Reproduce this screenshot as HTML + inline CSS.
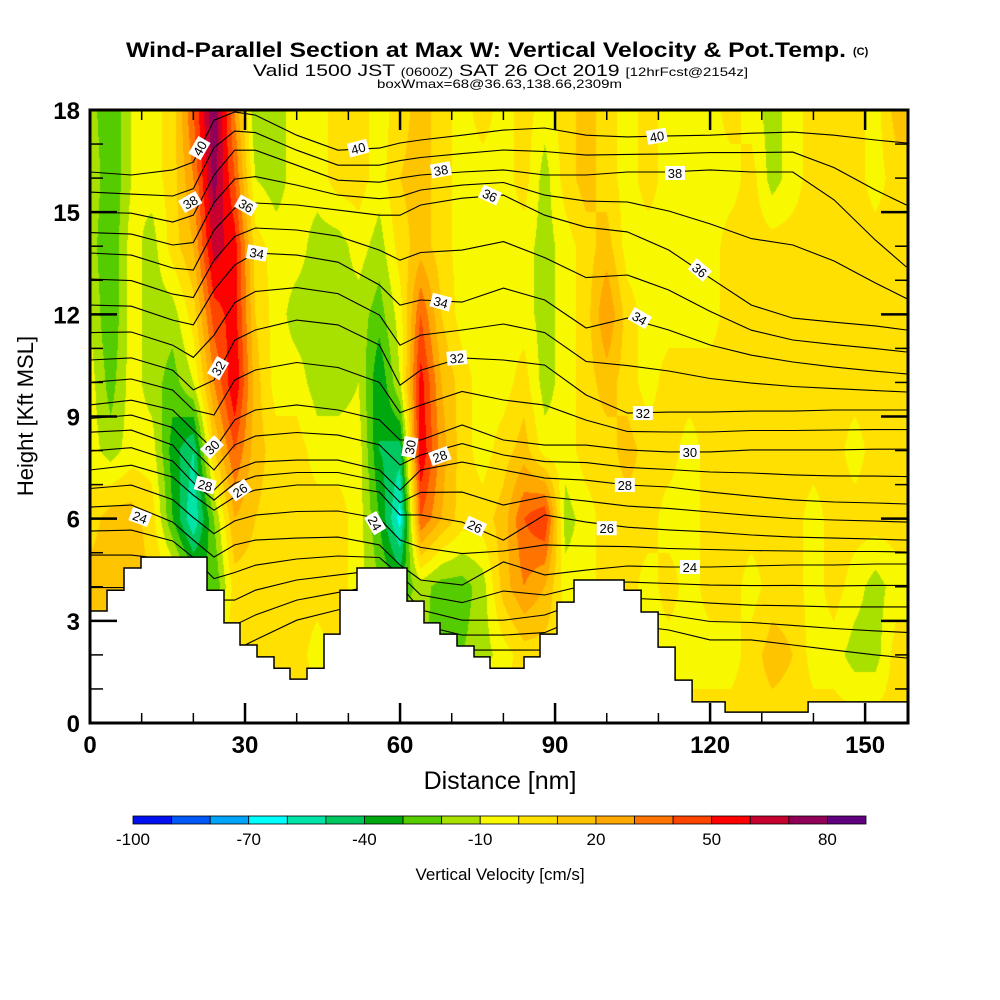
<!DOCTYPE html>
<html><head><meta charset="utf-8">
<style>
html,body{margin:0;padding:0;background:#fff;}
#wrap{position:relative;width:1000px;height:1000px;overflow:hidden;}
canvas{position:absolute;left:0;top:0;}
svg{position:absolute;left:0;top:0;}
text{font-family:"Liberation Sans",sans-serif;}
</style></head>
<body>
<div id="wrap">
<canvas id="heat" width="1000" height="1000"></canvas>
<svg id="svg" width="1000" height="1000" xmlns="http://www.w3.org/2000/svg">
  <g>
    <text x="126" y="57" font-size="21" font-weight="bold" textLength="720" lengthAdjust="spacingAndGlyphs">Wind-Parallel Section at Max W: Vertical Velocity &amp; Pot.Temp.</text>
    <text x="853" y="55" font-size="11" font-weight="bold">(C)</text>
    <text x="253" y="76" font-size="17" textLength="495" lengthAdjust="spacingAndGlyphs">Valid 1500 JST <tspan font-size="12">(0600Z)</tspan> SAT 26 Oct 2019 <tspan font-size="12">[12hrFcst@2154z]</tspan></text>
    <text x="377" y="88" font-size="12" textLength="245" lengthAdjust="spacingAndGlyphs">boxWmax=68@36.63,138.66,2309m</text>
  </g>
  <g id="plot">
    <defs><clipPath id="clip"><rect x="90" y="110" width="818" height="613"/></clipPath></defs>
    <g id="lines" clip-path="url(#clip)"></g>
    <g id="terrain" clip-path="url(#clip)"></g>
    <g id="labels"></g>
    <g id="ticks"></g>
    <rect x="90" y="110" width="818" height="613" fill="none" stroke="#000" stroke-width="3"/>
  </g>
  <g id="xlabels"></g>
  <g id="ylabels"></g>
  <text x="500" y="789" font-size="25" text-anchor="middle">Distance [nm]</text>
  <text x="0" y="0" font-size="22" text-anchor="middle" transform="translate(33,416) rotate(-90)">Height [Kft MSL]</text>
  <g id="cbar"></g>
  <text x="500" y="880" font-size="17" text-anchor="middle">Vertical Velocity [cm/s]</text>
</svg>
</div>
<script>
// ---------- data ----------
const dist = [0,4,8,12,16,20,24,28,32,36,40,44,48,52,56,60,64,68,72,76,80,84,88,92,96,100,104,108,112,116,120,124,128,132,136,140,144,148,152,156];
const heightsW = [0,2,4,6,8,10,12,14,16,18];
const wH0  = [5,5,5,5,5,5,5,5,5,5,5,5,5,5,5,5,5,5,5,5,5,5,5,5,5,5,5,5,5,5,5,5,5,5,5,5,5,5,5,5];
const wH2  = [10,10,10,10,5,5,5,5,5,5,5,-5,5,5,5,5,-15,-30,-20,-15,-5,5,5,5,5,5,5,-5,-5,-5,-5,-5,5,15,10,-5,-5,-15,-15,5];
const wH4  = [15,15,15,10,5,-20,-30,5,5,5,5,5,5,-5,-20,-30,-15,-25,-25,-15,15,30,20,-5,-5,5,5,-5,5,-5,5,5,-5,5,5,-5,5,-5,-15,-5];
const wH6  = [5,15,15,5,-30,-60,-20,20,10,5,5,5,5,-5,-30,-65,40,20,5,5,15,40,50,-15,-5,5,5,5,-5,-5,5,5,5,5,5,-5,5,5,5,5];
const wH8  = [-5,-15,-5,-5,-35,-50,10,40,15,5,5,-5,-5,-5,-40,-45,60,25,5,-5,5,15,-5,-5,5,5,15,5,5,-5,5,5,5,5,5,5,5,-5,5,5];
const wH10 = [-5,-25,-5,-15,-25,-10,30,60,15,-5,-5,-15,-15,-10,-40,-10,55,20,5,-5,-5,5,-15,-5,5,15,5,-5,5,5,5,5,5,5,5,5,5,5,5,5];
const wH12 = [-10,-30,-5,-15,-15,5,45,55,10,-5,-15,-15,-15,-15,-25,-5,40,10,-5,-5,-5,-5,-15,-5,5,30,5,-5,-5,-5,-5,5,5,5,5,5,5,5,5,5];
const wH14 = [-15,-30,-5,-15,5,20,65,55,5,-5,-5,-15,-15,-5,-15,5,15,5,-5,-5,-5,-5,-15,-5,5,15,-5,-5,-5,-5,-5,5,5,5,5,5,5,5,5,5];
const wH16 = [-10,-30,-10,-5,5,30,75,40,-10,-15,-5,-5,5,5,-5,10,15,5,-5,-5,-5,5,-15,5,15,5,-5,5,-5,-5,-5,-5,5,-15,-5,5,5,5,-5,5];
const wH18 = [-15,-30,-10,-5,5,40,80,30,-20,-15,-5,-5,5,5,-5,5,15,5,-5,5,-5,5,-5,5,15,5,-5,5,-5,-5,-5,5,-5,-15,-5,5,5,5,-5,15];
const wRows = [wH0,wH2,wH4,wH6,wH8,wH10,wH12,wH14,wH16,wH18];

const cbLevels = [-100,-90,-80,-70,-60,-50,-40,-30,-20,-10,0,10,20,30,40,50,60,70,80,90];
const cbColors = ["#0010f0","#0058f8","#00a4f8","#00ffff","#00e4a8","#00c860","#00a810","#54cc00","#a8e000","#f8f800","#ffe000","#ffc400","#ffa800","#ff7400","#ff4400","#ff0000","#c80030","#900058","#60007f"];
const cbTickLabels = [-100,-70,-40,-10,20,50,80];

const thDist = [0,8,16,20,24,28,32,40,48,56,60,64,72,80,88,96,104,112,120,128,136,144,152,158];
const th20 = [3.02,3.02,3.02,3.02,2.44,2.14,2.44,3.02,3.32,3.61,3.02,2.44,2.14,2.14,2.14,2.73,2.88,2.73,2.44,2.44,2.29,2.14,2.0,1.91];
const th22 = [4.93,4.93,4.79,4.35,3.61,3.61,3.9,4.2,4.35,4.49,4.05,3.32,3.02,3.02,3.17,3.61,3.67,3.61,3.52,3.46,3.44,3.41,3.41,3.41];
const th24 = [6.34,6.4,5.9,5.37,4.87,5.23,5.37,5.43,5.46,5.23,4.64,4.2,4.05,4.73,4.35,4.49,4.61,4.58,4.58,4.61,4.64,4.64,4.67,4.67];
const th26 = [7.43,7.57,7.22,6.69,6.25,6.64,6.84,6.99,6.99,6.78,6.11,6.11,5.9,5.37,6.11,5.9,5.75,5.67,5.61,5.52,5.46,5.43,5.4,5.37];
const th28 = [8.54,8.6,8.16,7.43,6.84,7.43,7.66,7.72,7.72,7.43,6.84,7.43,7.66,7.43,7.19,7.13,6.99,6.93,6.78,6.66,6.55,6.49,6.46,6.43];
const th30 = [9.34,9.48,9.19,8.6,8.02,8.9,9.19,9.34,9.19,8.9,8.31,8.31,8.75,8.31,8.16,8.16,8.02,7.96,7.96,8.02,8.02,8.02,8.04,8.04];
const th32 = [10.66,10.72,10.36,9.78,10.07,11.24,11.54,11.83,11.69,11.1,9.92,10.36,10.72,10.66,10.51,9.63,9.1,9.13,9.13,9.16,9.16,9.19,9.19,9.19];
const th34 = [12.27,12.24,11.83,11.69,12.71,13.45,13.8,13.74,13.53,12.86,12.27,12.42,12.36,12.77,12.42,11.6,11.89,11.54,11.1,10.8,10.6,10.45,10.33,10.25];
const th36 = [13.8,13.74,13.36,13.3,14.47,15.12,15.27,15.21,15.06,14.91,14.91,15.21,15.41,15.5,14.91,14.56,14.42,13.89,13.07,12.27,11.89,11.77,11.66,11.54];
const th38 = [15.0,14.97,14.71,14.91,16.09,16.82,16.82,16.38,15.94,15.88,16.0,16.09,16.18,16.24,16.09,16.09,16.18,16.18,16.24,16.18,16.18,15.36,14.18,13.39];
const th40 = [16.18,16.09,16.24,16.47,17.7,17.94,17.85,17.26,16.82,16.88,17.03,17.12,17.26,17.41,17.47,17.26,17.21,17.24,17.26,17.32,17.35,17.26,17.12,17.03];
const thEven = [th20,th22,th24,th26,th28,th30,th32,th34,th36,th38,th40];

const lblText = ["40","38","36","34","32","30","28","26","24","40","38","36","34","32","30","28","26","24","40","38","36","34","32","30","28","26","24"];
const lblDist = [21.2,19.4,30.2,32.3,24.8,23.6,22.3,29,9.7,51.9,67.9,77.4,67.9,71,61.9,67.7,74.5,55.2,109.7,113.2,118,106.4,107,116.1,103.5,100,116.1];
const lblHgt  = [16.88,15.3,15.2,13.8,10.42,8.1,6.99,6.84,6.05,16.88,16.24,15.5,12.36,10.72,8.1,7.84,5.78,5.87,17.23,16.15,13.3,11.89,9.1,7.96,6.99,5.72,4.58];
const lblRot  = [-60,-30,30,10,-60,-45,15,-35,20,-15,-10,25,15,-5,-80,-20,25,60,-10,0,40,30,0,0,0,0,0];

const terrEdges = [0,3.29,6.58,9.87,22.64,25.93,29.03,32.32,35.61,38.71,42.0,45.29,48.38,51.67,61.35,64.64,67.74,71.03,74.32,77.41,83.99,87.09,90.38,93.67,103.35,106.64,109.93,113.22,116.51,122.9,138.96,158.3];
const terrHgt = [3.29,3.9,4.55,4.87,3.9,2.94,2.29,1.94,1.61,1.29,1.61,2.61,3.9,4.55,3.58,2.94,2.61,2.26,1.94,1.61,1.94,2.61,3.55,4.2,3.9,3.26,2.23,1.26,0.62,0.32,0.62];

const xTicks = [0,30,60,90,120,150];
const yTicks = [0,3,6,9,12,15,18];

// ---------- axes ----------
const X0=90, X1=908, Y0=723, Y1=110, DMAX=158.3, HMAX=18;
const X = d => X0 + d*(X1-X0)/DMAX;
const Y = h => Y0 - h*(Y0-Y1)/HMAX;
const NS="http://www.w3.org/2000/svg";
function mk(tag, attrs, parent){const e=document.createElementNS(NS,tag);for(const k in attrs)e.setAttribute(k,attrs[k]);parent.appendChild(e);return e;}
function hex(c){return [parseInt(c.substr(1,2),16),parseInt(c.substr(3,2),16),parseInt(c.substr(5,2),16)];}
const rgb = cbColors.map(hex);

// ---------- heatmap ----------
(function(){
  const cv=document.getElementById('heat'); const ctx=cv.getContext('2d');
  const W=X1-X0, H=Y0-Y1; const img=ctx.createImageData(W,H);
  const dStep=dist[1]-dist[0], hStep=heightsW[1]-heightsW[0];
  for(let py=0;py<H;py++){
    const h=(Y0-(Y1+py+0.5))*HMAX/(Y0-Y1);
    let fj=h/hStep; let j=Math.min(Math.floor(fj),heightsW.length-2); if(j<0)j=0; const tj=Math.max(0,Math.min(1,fj-j));
    for(let px=0;px<W;px++){
      const d=(px+0.5)*DMAX/W;
      let fi=d/dStep; let i=Math.min(Math.floor(fi),dist.length-2); let ti=fi-i; if(ti>1)ti=1;
      const v=(wRows[j][i]*(1-ti)+wRows[j][i+1]*ti)*(1-tj)+(wRows[j+1][i]*(1-ti)+wRows[j+1][i+1]*ti)*tj;
      let k=Math.floor((v-cbLevels[0])/10); if(k<0)k=0; if(k>rgb.length-1)k=rgb.length-1;
      const o=(py*W+px)*4; img.data[o]=rgb[k][0]; img.data[o+1]=rgb[k][1]; img.data[o+2]=rgb[k][2]; img.data[o+3]=255;
    }
  }
  ctx.putImageData(img,X0,Y1);
})();

// ---------- isentropes ----------
(function(){
  const g=document.getElementById('lines');
  function draw(arr,level){
    const pts=thDist.map((d,i)=>X(d).toFixed(1)+','+Y(arr[i]).toFixed(1)).join(' ');
    const p=mk('polyline',{points:pts,fill:'none',stroke:'#000','stroke-width':'1.1'},g);
    
    
  }
  for(let k=0;k<thEven.length;k++){
    draw(thEven[k],20+2*k);
    if(k<thEven.length-1){
      const mid=thEven[k].map((v,i)=>(v+thEven[k+1][i])/2);
      draw(mid,21+2*k);
    }
  }
})();

// ---------- terrain ----------
(function(){
  const g=document.getElementById('terrain');
  let pts=[[X(terrEdges[0]),Y(0)]];
  for(let i=0;i<terrHgt.length;i++){pts.push([X(terrEdges[i]),Y(terrHgt[i])]);pts.push([X(terrEdges[i+1]),Y(terrHgt[i])]);}
  pts.push([X(terrEdges[terrEdges.length-1]),Y(0)]);
  const p=mk('polygon',{points:pts.map(q=>q[0].toFixed(1)+','+q[1].toFixed(1)).join(' '),fill:'#fff',stroke:'#000','stroke-width':'1.5'},g);
  
  
})();

// ---------- contour labels ----------
(function(){
  const g=document.getElementById('labels');
  for(let i=0;i<lblText.length;i++){
    const x=X(lblDist[i]), y=Y(lblHgt[i]);
    const gg=mk('g',{transform:'translate('+x.toFixed(1)+','+y.toFixed(1)+') rotate('+lblRot[i]+')'},g);
    
    
    mk('rect',{x:-10,y:-7,width:20,height:14,fill:'#fff'},gg);
    const t=mk('text',{x:0,y:5,'font-size':'13','text-anchor':'middle',fill:'#000','font-family':'Liberation Serif, serif'},gg);
    t.textContent=lblText[i];
  }
})();

// ---------- ticks & labels ----------
(function(){
  const g=document.getElementById('ticks');
  for(let d=0; d<=DMAX; d+=10){
    const maj=(d%30===0); const L=maj?20:10;
    mk('line',{x1:X(d),x2:X(d),y1:Y0,y2:Y0-L,stroke:'#000','stroke-width':maj?2.5:1.5},g);
    mk('line',{x1:X(d),x2:X(d),y1:Y1,y2:Y1+L,stroke:'#000','stroke-width':maj?2.5:1.5},g);
  }
  for(let h=0; h<=HMAX; h+=1){
    const maj=(h%3===0); const L=maj?27:13;
    mk('line',{x1:X0,x2:X0+L,y1:Y(h),y2:Y(h),stroke:'#000','stroke-width':maj?2.5:1.5},g);
    mk('line',{x1:X1,x2:X1-L,y1:Y(h),y2:Y(h),stroke:'#000','stroke-width':maj?2.5:1.5},g);
  }
  const gx=document.getElementById('xlabels');
  xTicks.forEach(v=>{
    const t=mk('text',{x:X(v),y:753,'font-size':'24','font-weight':'bold','text-anchor':'middle'},gx);
    t.textContent=v;
    
    
  });
  const gy=document.getElementById('ylabels');
  yTicks.forEach(v=>{
    const t=mk('text',{x:80,y:Y(v)+9,'font-size':'24','font-weight':'bold','text-anchor':'end'},gy);
    t.textContent=v;
    
    
  });
})();

// ---------- colorbar ----------
(function(){
  const g=document.getElementById('cbar');
  const cx0=133, cx1=866, cy=816, ch=8;
  const CX=v=>cx0+(v-cbLevels[0])*(cx1-cx0)/(cbLevels[cbLevels.length-1]-cbLevels[0]);
  for(let i=0;i<cbColors.length;i++){
    const r=mk('rect',{x:CX(cbLevels[i]),y:cy,width:CX(cbLevels[i+1])-CX(cbLevels[i]),height:ch,fill:cbColors[i],stroke:'#000','stroke-width':'0.8'},g);
    
    
  }
  cbTickLabels.forEach(v=>{
    const t=mk('text',{x:CX(v),y:845,'font-size':'17','text-anchor':'middle'},g);
    t.textContent=v;
    
    
  });
})();
</script>
</body></html>
